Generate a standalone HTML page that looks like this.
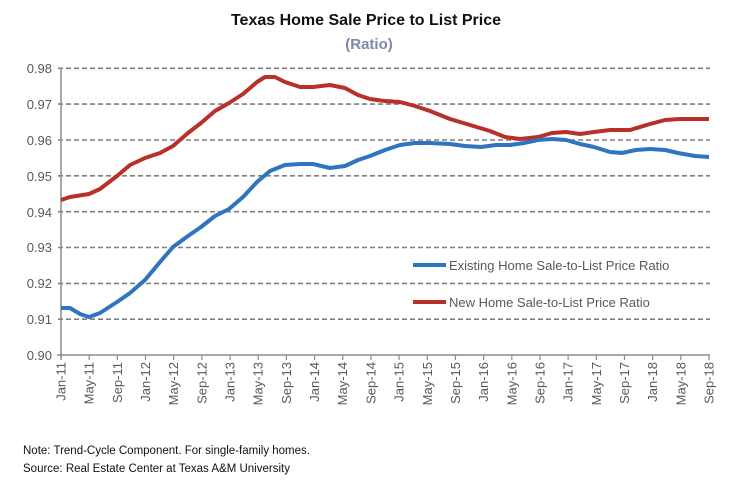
<!DOCTYPE html>
<html><head><style>
body{margin:0;background:#fff;}
svg text{font-family:"Liberation Sans",sans-serif;}
</style></head><body>
<svg width="733" height="482" viewBox="0 0 733 482" xmlns="http://www.w3.org/2000/svg">
<text x="366" y="25" text-anchor="middle" font-size="16" font-weight="bold" fill="#111">Texas Home Sale Price to List Price</text>
<text x="369" y="49" text-anchor="middle" font-size="15" font-weight="bold" fill="#7f86a8">(Ratio)</text>
<g stroke="#7f7f7f" stroke-width="1.6" stroke-dasharray="5,3">
<line x1="58" y1="68.3" x2="710" y2="68.3"/><line x1="58" y1="104.1" x2="710" y2="104.1"/>
<line x1="58" y1="140" x2="710" y2="140"/><line x1="58" y1="175.8" x2="710" y2="175.8"/>
<line x1="58" y1="211.7" x2="710" y2="211.7"/><line x1="58" y1="247.5" x2="710" y2="247.5"/>
<line x1="58" y1="283.4" x2="710" y2="283.4"/><line x1="58" y1="319.2" x2="710" y2="319.2"/>
</g>
<g stroke="#8c8c8c" stroke-width="1.5">
<line x1="61" y1="68" x2="61" y2="359"/><line x1="57" y1="355" x2="710" y2="355"/>
</g>
<g font-size="13" fill="#595959" text-anchor="end">
<text x="52" y="73">0.98</text><text x="52" y="109">0.97</text><text x="52" y="145">0.96</text>
<text x="52" y="181">0.95</text><text x="52" y="217">0.94</text><text x="52" y="252">0.93</text>
<text x="52" y="288">0.92</text><text x="52" y="324">0.91</text><text x="52" y="360">0.90</text>
</g>
<g id="ticks" stroke="#8c8c8c" stroke-width="1.2"></g>
<g id="xl" font-size="13" fill="#595959"></g>
<polyline fill="none" stroke="#b8302a" stroke-width="4" stroke-linejoin="round" points="61,200 70,197 89,194 100,189 117,176 130,165 145,158 160,153 173,146 188,133 201,123 215,111 229,103 243,94 257,82 265,77 275,77 285,82 300,87 313,87 330,85 345,88 358,95 370,99 385,101 400,102 415,106 430,111 450,119 470,125 490,131 505,137 520,139 538,137 552,133 566,132 580,134 594,132 610,130 630,130 650,124 665,120 680,119 709,119"/>
<polyline fill="none" stroke="#2e74c0" stroke-width="4" stroke-linejoin="round" points="61,308 70,308 80,314 89,317 100,313 117,302 130,293 145,280 160,262 173,247 188,236 201,227 215,216 229,209 243,197 257,182 270,171 285,165 300,164 313,164 330,168 345,166 358,160 370,156 385,150 400,145 415,143 430,143 450,144 465,146 481,147 496,145 510,145 524,143 538,140 552,139 566,140 580,144 594,147 610,152 622,153 636,150 650,149 665,150 678,153 695,156 709,157"/>
<line x1="413" y1="265" x2="446" y2="265" stroke="#2e74c0" stroke-width="4"/>
<line x1="413" y1="302" x2="446" y2="302" stroke="#b8302a" stroke-width="4"/>
<text x="449" y="270" font-size="13" fill="#595959">Existing Home Sale-to-List Price Ratio</text>
<text x="449" y="307" font-size="13" fill="#595959">New Home Sale-to-List Price Ratio</text>
<text x="23" y="454" font-size="11.5" fill="#111">Note: Trend-Cycle Component. For single-family homes.</text>
<text x="23" y="472" font-size="11.5" fill="#111">Source: Real Estate Center at Texas A&amp;M University</text>
</svg>
<script>
var L=[];var m=["Jan","May","Sep"];for(var y=11;y<=18;y++)for(var i=0;i<3;i++)L.push(m[i]+"-"+y);
var t=document.getElementById("ticks"),xl=document.getElementById("xl"),ns="http://www.w3.org/2000/svg";
for(var k=0;k<L.length;k++){var x=61+k*648/23;
var l=document.createElementNS(ns,"line");l.setAttribute("x1",x);l.setAttribute("x2",x);l.setAttribute("y1",355);l.setAttribute("y2",360);t.appendChild(l);
var tx=document.createElementNS(ns,"text");tx.setAttribute("transform","translate("+(x+4.5)+",362) rotate(-90)");tx.setAttribute("text-anchor","end");tx.textContent=L[k];xl.appendChild(tx);}
</script>
</body></html>
